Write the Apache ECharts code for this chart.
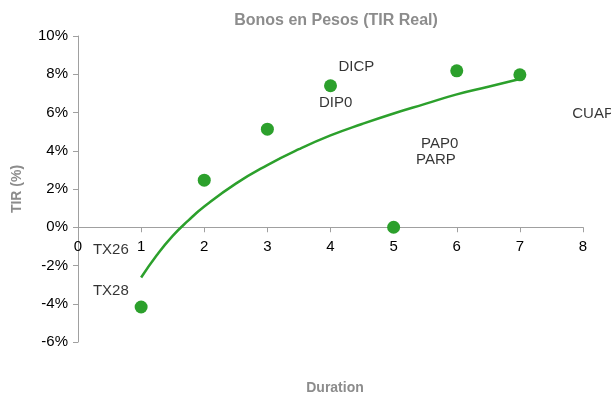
<!DOCTYPE html>
<html>
<head>
<meta charset="utf-8">
<script src="https://cdn.jsdelivr.net/npm/echarts@6/dist/echarts.min.js"></script>
<style>
  html, body { margin: 0; padding: 0; background: #fff; }
  #chart { width: 611px; height: 396px; }
</style>
</head>
<body>
<div id="chart"></div>
<script>
// Real IRR of peso bonds against duration
const durations = [1, 2, 3, 4, 5, 6, 7];
const tirReal = [-4.17, 2.46, 5.13, 7.40, 0.0, 8.18, 7.97];

// Trend curve samples (duration, TIR %)
const trendX = [1, 1.25, 1.5, 1.75, 2, 2.5, 3, 3.5, 4, 4.5, 5, 5.5, 6, 6.5, 7];
const trendY = [-2.63, -1.45, -0.45, 0.36, 1.08, 2.28, 3.25, 4.08, 4.80, 5.40, 5.95, 6.45, 6.95, 7.35, 7.75];

// Bond tickers and where their names sit on the chart (duration, TIR %)
const bondNames = ['DICP', 'DIP0', 'PAP0', 'PARP', 'CUAP', 'TX26', 'TX28'];
const nameX = [4.41, 4.08, 5.73, 5.67, 8.16, 0.52, 0.52];
const nameY = [8.39, 6.51, 4.35, 3.51, 5.95, -1.20, -3.30];

const xTicks = { min: 0, max: 8, interval: 1 };
const yTicks = { min: -6, max: 10, interval: 2 };

const GREEN = '#2ca02c';
const AXIS = '#a0a0a0';
const FONT = 'Liberation Sans, Arial, sans-serif';

const grid = { left: 78, right: 28, top: 36, bottom: 54 };
const plotHeight = 396 - grid.top - grid.bottom;
// Lift the duration axis so it runs along the 0% line
const zeroOffset = -plotHeight * (0 - yTicks.min) / (yTicks.max - yTicks.min);

const chart = echarts.init(document.getElementById('chart'));
chart.setOption({
  animation: false,
  backgroundColor: '#ffffff',
  title: [
    {
      text: 'Bonos en Pesos (TIR Real)',
      left: 331, top: 8, textAlign: 'center',
      textStyle: { fontFamily: FONT, fontSize: 16, fontWeight: 'bold', color: '#8c8c8c' }
    },
    {
      text: 'Duration',
      left: 330, top: 376, textAlign: 'center',
      textStyle: { fontFamily: FONT, fontSize: 14, fontWeight: 'bold', color: '#8c8c8c' }
    }
  ],
  grid: Object.assign({ containLabel: false }, grid),
  xAxis: {
    type: 'value',
    position: 'bottom',
    offset: zeroOffset,
    min: xTicks.min, max: xTicks.max, interval: xTicks.interval,
    axisLine: { show: true, onZero: false, lineStyle: { color: AXIS, width: 1 } },
    axisTick: { show: true, inside: false, length: 5, lineStyle: { color: AXIS } },
    axisLabel: { margin: 12, fontFamily: FONT, fontSize: 15, color: '#000' },
    splitLine: { show: false }
  },
  yAxis: {
    type: 'value',
    min: yTicks.min, max: yTicks.max, interval: yTicks.interval,
    name: 'TIR (%)',
    nameLocation: 'middle',
    nameGap: 54,
    nameRotate: 90,
    nameTextStyle: { fontFamily: FONT, fontSize: 14, fontWeight: 'bold', color: '#8c8c8c' },
    axisLine: { show: true, lineStyle: { color: AXIS, width: 1 } },
    axisTick: { show: true, inside: false, length: 5, lineStyle: { color: AXIS } },
    axisLabel: {
      margin: 10, fontFamily: FONT, fontSize: 15, color: '#000',
      formatter: v => v + '%'
    },
    splitLine: { show: false }
  },
  series: [
    {
      name: 'Tendencia',
      type: 'line',
      smooth: true,
      showSymbol: false,
      data: trendX.map((x, i) => [x, trendY[i]]),
      lineStyle: { color: GREEN, width: 2.5 },
      z: 2
    },
    {
      name: 'TIR Real',
      type: 'scatter',
      symbol: 'circle',
      symbolSize: 13,
      data: durations.map((x, i) => [x, tirReal[i]]),
      itemStyle: { color: GREEN, opacity: 1 },
      clip: false,
      z: 3
    },
    {
      name: 'Bonos',
      type: 'scatter',
      symbolSize: 0,
      clip: false,
      silent: true,
      data: bondNames.map((n, i) => ({ name: n, value: [nameX[i], nameY[i]] })),
      label: {
        show: true,
        position: 'inside',
        formatter: p => p.name,
        fontFamily: FONT,
        fontSize: 15,
        color: '#000'
      },
      z: 4
    }
  ]
});
</script>
</body>
</html>
